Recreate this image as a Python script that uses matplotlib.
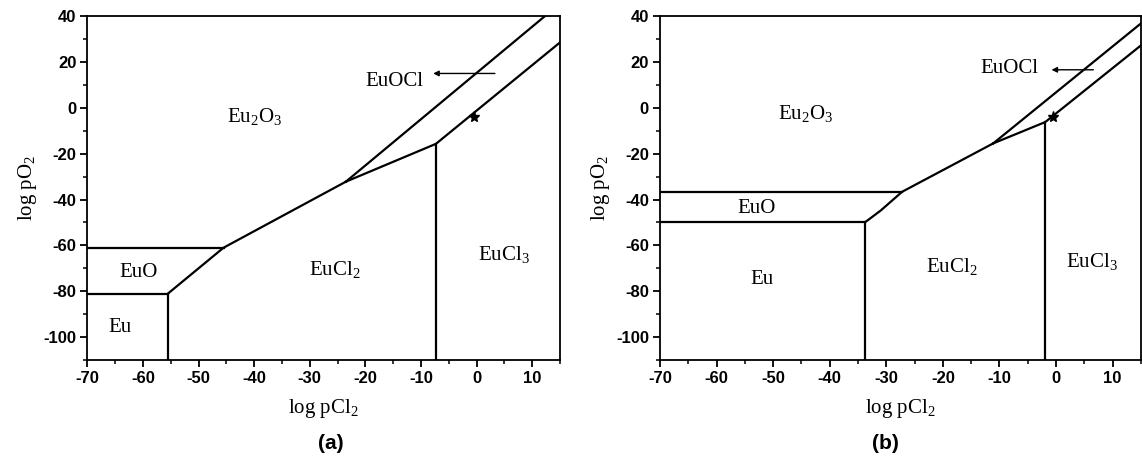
import matplotlib
matplotlib.use("Agg")
import matplotlib.pyplot as plt
from matplotlib.ticker import MultipleLocator

# ---------------- data (panel a) ----------------
a_euo_top_x = [-70, -45.5]; a_euo_top_y = [-61, -61]
a_eu_top_x = [-70, -55.5]; a_eu_top_y = [-81, -81]
a_eu_vert_x = [-55.5, -55.5]; a_eu_vert_y = [-81, -110]
a_main_x = [-55.5, -49.0, -45.5, -23.5]; a_main_y = [-81, -68.0, -61, -32.2]
a_upper_x = [-23.5, 12.3]; a_upper_y = [-32.2, 40]
a_lower_x = [-23.5, -7.3, 15]; a_lower_y = [-32.2, -15.7, 28.5]
a_cl3_vert_x = [-7.3, -7.3]; a_cl3_vert_y = [-15.7, -110]
a_star = (-0.5, -4.1)
a_arrow = ((3.3, 15.0), (-7.8, 15.0))
a_labels = [("Eu$_2$O$_3$", -39.9, -3.8), ("EuOCl", -14.7, 11.4), ("EuO", -60.8, -72),
            ("Eu", -64.1, -96), ("EuCl$_2$", -25.5, -70.6), ("EuCl$_3$", 5.0, -64)]

# ---------------- data (panel b) ----------------
b_euo_top_x = [-70, -27.2]; b_euo_top_y = [-36.6, -36.6]
b_eu_top_x = [-70, -33.7]; b_eu_top_y = [-49.8, -49.8]
b_eu_vert_x = [-33.7, -33.7]; b_eu_vert_y = [-49.8, -110]
b_main_x = [-33.7, -31.0, -27.2, -11.1]; b_main_y = [-49.8, -44.8, -36.6, -15.5]
b_upper_x = [-11.1, 15]; b_upper_y = [-15.5, 36.8]
b_lower_x = [-11.1, -1.9, 15]; b_lower_y = [-15.5, -6.2, 27.2]
b_cl3_vert_x = [-1.9, -1.9]; b_cl3_vert_y = [-6.2, -110]
b_star = (-0.45, -3.9)
b_arrow = ((6.6, 16.6), (-0.8, 16.6))
b_labels = [("Eu$_2$O$_3$", -44.2, -2.4), ("EuOCl", -8.2, 17.2), ("EuO", -52.9, -43.9),
            ("Eu", -52.0, -75), ("EuCl$_2$", -18.5, -69), ("EuCl$_3$", 6.3, -67)]

x_ticks = [-70, -60, -50, -40, -30, -20, -10, 0, 10]
y_ticks = [-100, -80, -60, -40, -20, 0, 20, 40]

plt.rcParams['mathtext.fontset'] = 'custom'
plt.rcParams['mathtext.rm'] = 'Liberation Serif'
plt.rcParams['mathtext.it'] = 'Liberation Serif:italic'
plt.rcParams['axes.unicode_minus'] = False

fig = plt.figure(figsize=(11.42, 4.61), dpi=100)
ax_a = fig.add_axes([0.0765, 0.219, 0.4138, 0.746])
ax_b = fig.add_axes([0.578, 0.219, 0.421, 0.746])

serif = 'Liberation Serif'


def draw(ax, segs, star, arrow, labels):
    for xs, ys in segs:
        ax.plot(xs, ys, color='black', lw=1.6, solid_joinstyle='miter')
    ax.plot([star[0]], [star[1]], marker='*', color='black', ms=8, clip_on=False)
    ax.annotate('', xy=arrow[1], xytext=arrow[0],
                arrowprops=dict(arrowstyle='-|>', color='black', lw=1.0,
                                mutation_scale=8, shrinkA=0, shrinkB=0))
    for t, x, y in labels:
        ax.text(x, y, t, ha='center', va='center', fontsize=15, family=serif)
    ax.set_xlim(-70, 15)
    ax.set_ylim(-110, 40)
    ax.set_xticks(x_ticks)
    ax.set_yticks(y_ticks)
    ax.xaxis.set_minor_locator(MultipleLocator(5))
    ax.yaxis.set_minor_locator(MultipleLocator(10))
    ax.tick_params(which='major', direction='out', length=5, width=1.3, top=False, right=False,
                   labelsize=12, pad=3)
    ax.tick_params(which='minor', direction='out', length=3, width=1.1, top=False, right=False)
    for lab in ax.get_xticklabels() + ax.get_yticklabels():
        lab.set_family('Liberation Sans')
        lab.set_fontweight('bold')
    for sp in ax.spines.values():
        sp.set_linewidth(1.3)
    ax.set_xlabel('log pCl$_2$', fontsize=15, family=serif, labelpad=8)
    ax.set_ylabel('log pO$_2$', fontsize=15, family=serif, labelpad=3)


segs_a = [(a_euo_top_x, a_euo_top_y), (a_eu_top_x, a_eu_top_y), (a_eu_vert_x, a_eu_vert_y),
          (a_main_x, a_main_y), (a_upper_x, a_upper_y), (a_lower_x, a_lower_y),
          (a_cl3_vert_x, a_cl3_vert_y)]
segs_b = [(b_euo_top_x, b_euo_top_y), (b_eu_top_x, b_eu_top_y), (b_eu_vert_x, b_eu_vert_y),
          (b_main_x, b_main_y), (b_upper_x, b_upper_y), (b_lower_x, b_lower_y),
          (b_cl3_vert_x, b_cl3_vert_y)]

draw(ax_a, segs_a, a_star, a_arrow, a_labels)
draw(ax_b, segs_b, b_star, b_arrow, b_labels)

fig.text(0.29, 0.038, '(a)', ha='center', va='center', fontsize=15, fontweight='bold',
         family='Liberation Sans')
fig.text(0.775, 0.038, '(b)', ha='center', va='center', fontsize=15, fontweight='bold',
         family='Liberation Sans')

fig.savefig('out.png', dpi=100)
